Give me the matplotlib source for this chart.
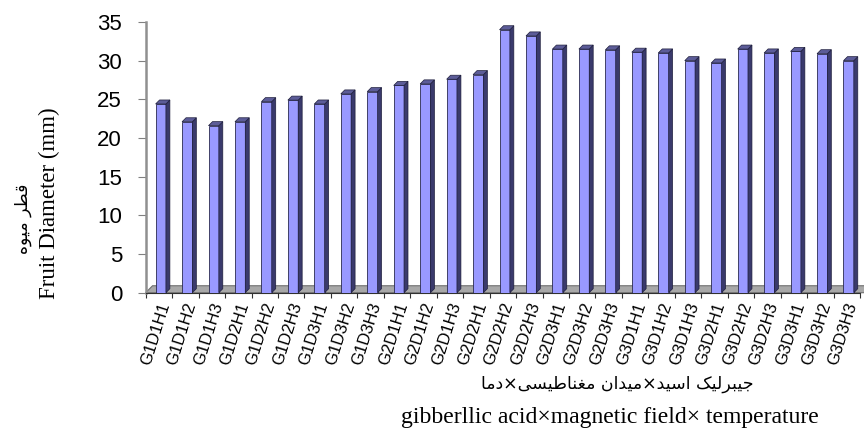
import numpy as np
import matplotlib
matplotlib.use('Agg')
import matplotlib.pyplot as plt
from matplotlib.transforms import ScaledTranslation

# داده ها
treatments = ['G1D1H1', 'G1D1H2', 'G1D1H3', 'G1D2H1', 'G1D2H2', 'G1D2H3',
              'G1D3H1', 'G1D3H2', 'G1D3H3', 'G2D1H1', 'G2D1H2', 'G2D1H3',
              'G2D2H1', 'G2D2H2', 'G2D2H3', 'G2D3H1', 'G2D3H2', 'G2D3H3',
              'G3D1H1', 'G3D1H2', 'G3D1H3', 'G3D2H1', 'G3D2H2', 'G3D2H3',
              'G3D3H1', 'G3D3H2', 'G3D3H3']
diameter = [24.4, 22.1, 21.6, 22.1, 24.7, 24.9, 24.4, 25.7, 26.0,
            26.8, 27.0, 27.6, 28.2, 34.0, 33.2, 31.5, 31.5, 31.4,
            31.1, 31.0, 30.0, 29.7, 31.5, 31.0, 31.2, 30.9, 30.0]
y_ticks = [0, 5, 10, 15, 20, 25, 30, 35]

ylabel_fa = 'قطر میوه'
ylabel_en = 'Fruit Diameter (mm)'
xlabel_fa = 'جیبرلیک اسید×میدان مغناطیسی×دما'
xlabel_en = 'gibberllic acid×magnetic field× temperature'

# شکل دادن حروف عربی (matplotlib خودش این کار را نمی کند)
DUAL = {'ب': 0xFE8F, 'ج': 0xFE9D, 'س': 0xFEB1, 'ط': 0xFEC1, 'غ': 0xFECD,
        'ق': 0xFED5, 'ل': 0xFEDD, 'م': 0xFEE1, 'ن': 0xFEE5, 'ه': 0xFEE9,
        'ی': 0xFBFC, 'ک': 0xFB8E}
RIGHT = {'ا': 0xFE8D, 'د': 0xFEA9, 'ر': 0xFEAD, 'و': 0xFEED}


def shape_fa(text):
    out = ''
    for i, ch in enumerate(text):
        if ch not in DUAL and ch not in RIGHT:
            out += ch
            continue
        prev = text[i - 1] if i > 0 else ''
        nxt = text[i + 1] if i + 1 < len(text) else ''
        join_prev = prev in DUAL
        join_next = ch in DUAL and (nxt in DUAL or nxt in RIGHT)
        if ch in RIGHT:
            out += chr(RIGHT[ch] + (1 if join_prev else 0))
        elif join_prev and join_next:
            out += chr(DUAL[ch] + 3)
        elif join_prev:
            out += chr(DUAL[ch] + 1)
        elif join_next:
            out += chr(DUAL[ch] + 2)
        else:
            out += chr(DUAL[ch])
    return out[::-1]


plt.rcParams['font.family'] = ['Liberation Sans', 'DejaVu Sans']

fig = plt.figure(figsize=(8.64, 4.29), dpi=100)
ax = fig.add_axes([0.1686, 0.3177, 0.8268, 0.631])

x = np.arange(len(treatments))
off = 0.07
w = 0.39
ddx = 0.15
ddy = 0.52

# کف سه بعدی
ax.fill([-0.5, -0.24, 26.9, 26.65], [0, 0.9, 0.9, 0], color='#a8a8a8',
        ec='#707070', lw=0.8, clip_on=False, zorder=1)

bars = ax.bar(x + off, diameter, width=w, color='#9999ff',
              edgecolor='#2a2a50', linewidth=0.6, zorder=3)
for b, v in zip(bars, diameter):
    L = b.get_x()
    R = L + b.get_width()
    ax.fill([R, R + ddx, R + ddx, R], [0, ddy, v + ddy, v],
            color='#3a3a6c', ec='#1e1e3c', lw=0.5, zorder=3)
    ax.fill([L, L + ddx, R + ddx, R], [v, v + ddy, v + ddy, v],
            color='#5c5c98', ec='#1e1e3c', lw=0.5, zorder=3)

ax.set_xlim(-0.5, 26.5)
ax.set_ylim(0, 35)
ax.set_yticks(y_ticks)
ax.tick_params(axis='y', labelsize=16, length=6, pad=11, color='#808080')

ax.set_xticks(np.arange(-0.5, 27, 1))
ax.set_xticklabels([])
ax.set_xticks(x, labels=treatments, minor=True)
ax.tick_params(axis='x', which='major', length=3.5, color='#303030')
ax.tick_params(axis='x', which='minor', length=0, pad=7, labelsize=12)
for lab in ax.get_xticklabels(minor=True):
    lab.set_rotation(72.5)
    lab.set_ha('right')
    lab.set_va('center')
    lab.set_rotation_mode('anchor')
    lab.set_transform(lab.get_transform() +
                      ScaledTranslation(6 / 100, 0, fig.dpi_scale_trans))

ax.spines['top'].set_visible(False)
ax.spines['right'].set_visible(False)
ax.spines['left'].set_color('#909090')
ax.spines['left'].set_linewidth(1.8)
ax.spines['bottom'].set_color('#303030')

fig.text(0.057, 1 - 203 / 429, ylabel_en, rotation=90, ha='center',
         va='center', family='Liberation Serif', fontsize=16.5)
fig.text(0.027, 1 - 219 / 429, shape_fa(ylabel_fa), rotation=90,
         ha='center', va='center', family='DejaVu Sans', fontsize=12.5)
fig.text(617 / 864, 1 - 384 / 429, shape_fa(xlabel_fa), ha='center',
         va='center', family='DejaVu Sans', fontsize=12.5)
fig.text(610 / 864, 1 - 423 / 429, xlabel_en, ha='center', va='baseline',
         family='Liberation Serif', fontsize=17)

fig.savefig('out.png', dpi=100)
